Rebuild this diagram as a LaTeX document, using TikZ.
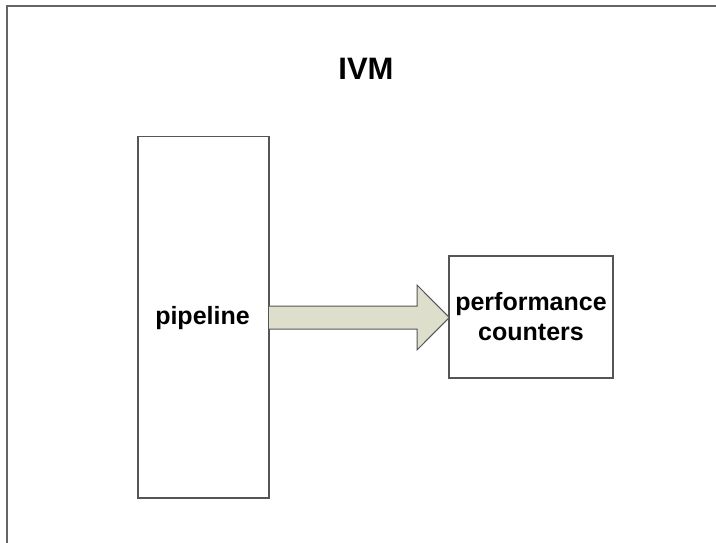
\documentclass[tikz,border=0pt]{standalone}
\usepackage{fontspec}
\setmainfont{Liberation Sans}
\definecolor{framegray}{RGB}{100,100,100}
\definecolor{boxgray}{RGB}{85,85,85}
\definecolor{arrowfill}{RGB}{221,222,204}
\begin{document}
\begin{tikzpicture}[x=1pt,y=-1pt,
  block/.style={draw=boxgray,line width=1.4pt,fill=white},
  label/.style={font=\bfseries\fontsize{25}{29.5}\selectfont,anchor=base,inner sep=0pt,align=center}]
\useasboundingbox (0,0) rectangle (716,543);
% outer frame (only its top and left sides fall inside the page)
\draw[framegray,line width=2pt] (716,6) -- (6.5,6) -- (6.5,543);
% title
\node[label,font=\bfseries\fontsize{31}{36}\selectfont] (title) at (366,79.3) {IVM};
% blocks
\draw[block] (138,136.5) rectangle (269,498);
\node[label] (pipe) at (202.5,324.3) {pipeline};
\draw[block] (449,256) rectangle (613,378);
% two-line label: base anchor sits on the last line
\node[label] (perf) at (531,340) {performance\\counters};
% block arrow from pipeline to counters
\draw[boxgray,line width=1pt,fill=arrowfill,line join=miter]
  (269,306) -- (417,306) -- (417,285) -- (449.3,317.5) -- (417,350) -- (417,329) -- (269,329);
\end{tikzpicture}
\end{document}
